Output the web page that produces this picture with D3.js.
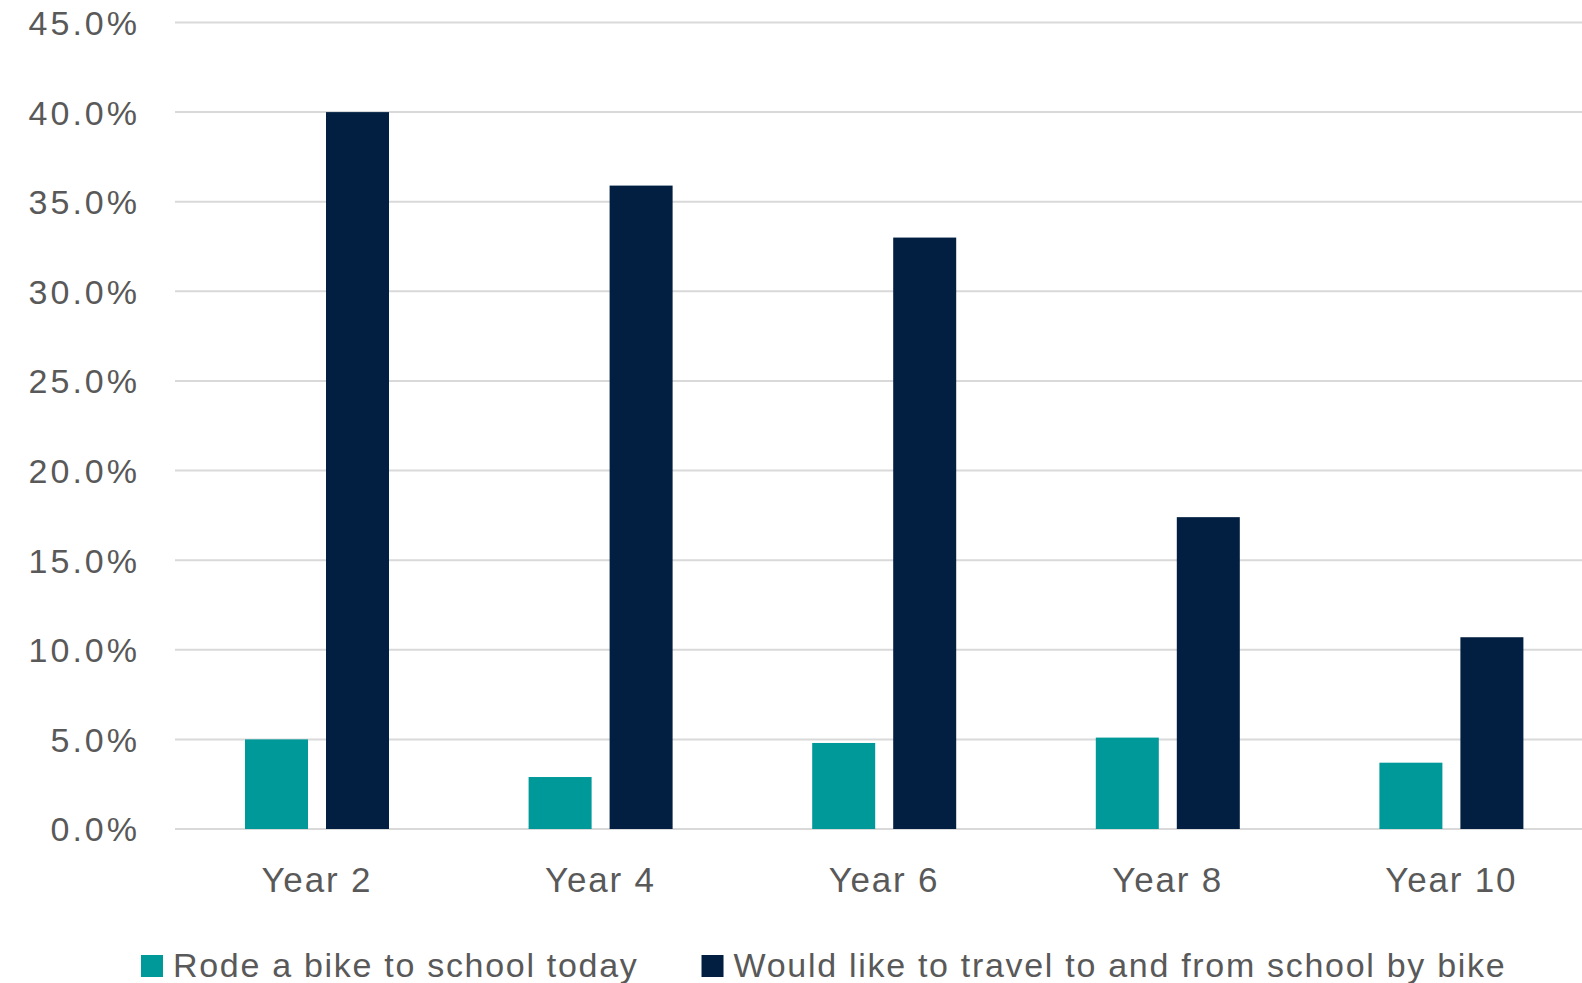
<!DOCTYPE html>
<html>
<head>
<meta charset="utf-8">
<script src="https://cdn.jsdelivr.net/npm/d3@7"></script>
<style>
  html, body { margin: 0; padding: 0; background: #ffffff; overflow: hidden; }
  svg { display: block; font-family: "Liberation Sans", Arial, sans-serif; }
</style>
</head>
<body>
<svg id="chart" width="1582" height="983"></svg>
<script>
const categories = ["Year 2", "Year 4", "Year 6", "Year 8", "Year 10"];
const seriesNames = ["Rode a bike to school today", "Would like to travel to and from school by bike"];
const rodeToday = [5.0, 2.9, 4.8, 5.1, 3.7];
const wouldLike = [40.0, 35.9, 33.0, 17.4, 10.7];
const tickValues = [0, 5, 10, 15, 20, 25, 30, 35, 40, 45];
const colors = ["#009999", "#021f41"];

const W = 1582, H = 983;
const svg = d3.select("#chart");

const y = d3.scaleLinear().domain([0, 45]).range([829, 22.5]);
const x0 = d3.scaleBand().domain(categories).range([175, 1593]).paddingInner(0).paddingOuter(0);
const x1 = d3.scaleBand().domain(seriesNames).range([70, 214]).paddingInner(18 / 81).paddingOuter(0);
const color = d3.scaleOrdinal().domain(seriesNames).range(colors);

// gridlines
svg.append("g").selectAll("line").data(tickValues).join("line")
  .attr("x1", 175).attr("x2", W)
  .attr("y1", d => y(d)).attr("y2", d => y(d))
  .attr("stroke", "#d9d9d9").attr("stroke-width", 2);

// y tick labels
const yAxis = d3.axisLeft(y).tickValues(tickValues).tickFormat(d => d3.format(".1f")(d) + "%").tickSize(0).tickPadding(0);
const gy = svg.append("g").attr("transform", "translate(140,0)").call(yAxis);
gy.select(".domain").remove();
gy.selectAll("text")
  .attr("fill", "#595959")
  .style("font-size", "34px")
  .style("letter-spacing", "3px")
  .style("font-family", "'Liberation Sans', Arial, sans-serif")
  .attr("dy", "0.35em");

// bars
const rows = categories.map((c, i) => ({ cat: c, values: [rodeToday[i], wouldLike[i]] }));
const groups = svg.append("g").selectAll("g").data(rows).join("g")
  .attr("transform", d => `translate(${x0(d.cat)},0)`);
groups.selectAll("rect").data(d => seriesNames.map((s, j) => ({ s, v: d.values[j] }))).join("rect")
  .attr("x", d => x1(d.s))
  .attr("width", x1.bandwidth())
  .attr("y", d => y(d.v))
  .attr("height", d => y(0) - y(d.v))
  .attr("fill", d => color(d.s));

// x category labels
const xAxis = d3.axisBottom(x0).tickSize(0).tickPadding(0);
const gx = svg.append("g").attr("transform", "translate(0,892)").call(xAxis);
gx.select(".domain").remove();
gx.selectAll("text")
  .attr("y", 0).attr("dy", 0)
  .attr("fill", "#595959")
  .style("font-size", "35px")
  .style("letter-spacing", "1.8px")
  .style("font-family", "'Liberation Sans', Arial, sans-serif");

// legend
const legend = svg.append("g");
let lx = 141;
seriesNames.forEach((s, i) => {
  legend.append("rect").attr("x", lx).attr("y", 955).attr("width", 22).attr("height", 22).attr("fill", color(s));
  const t = legend.append("text").attr("x", lx + 32).attr("y", 977)
    .attr("fill", "#595959")
    .style("font-size", "34px")
    .style("letter-spacing", "1.7px")
    .text(s);
  lx = lx + 32 + t.node().getComputedTextLength() + 63;
});
</script>
</body>
</html>
